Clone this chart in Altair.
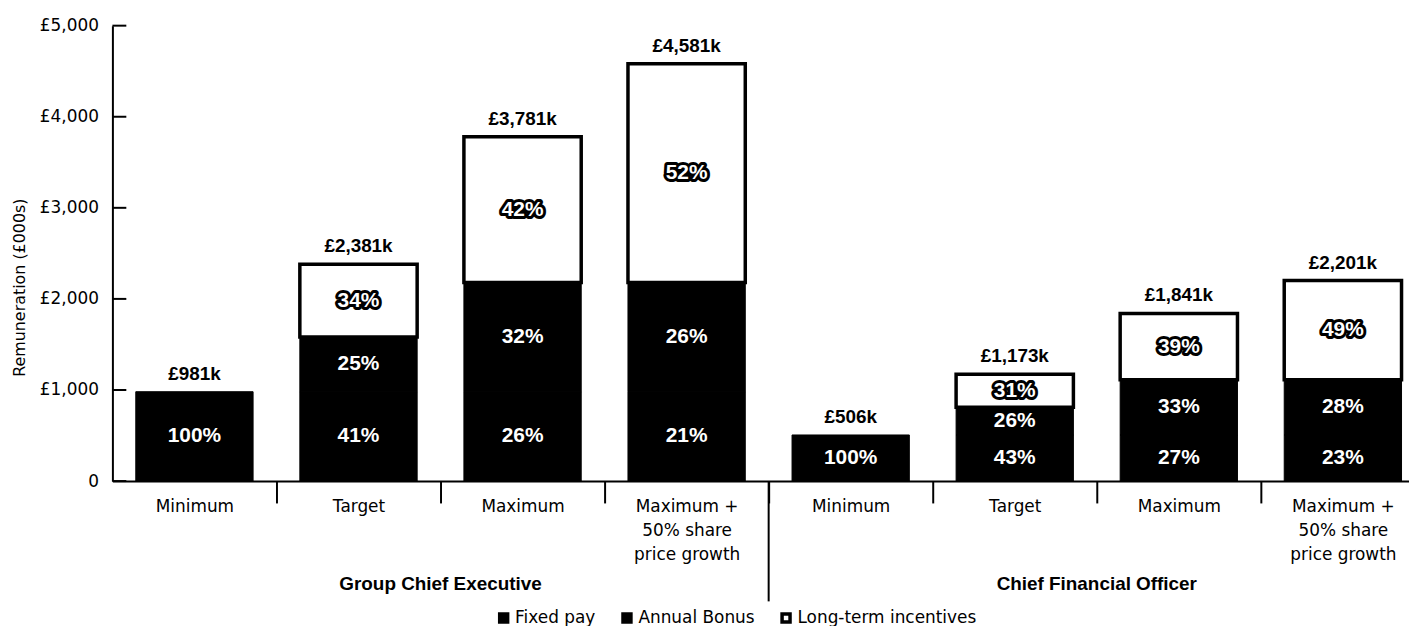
import altair as alt
import pandas as pd

# ---- data ----
roles = ["Group Chief Executive", "Chief Financial Officer"]
scenarios = ["Minimum", "Target", "Maximum", "Maximum +\n50% share\nprice growth"]
components = ["Fixed pay", "Annual Bonus", "Long-term incentives"]

fixed_pay = [981, 981, 981, 981, 506, 506, 506, 506]
annual_bonus = [0, 600, 1200, 1200, 0, 304, 607, 607]
long_term = [0, 800, 1600, 2400, 0, 363, 728, 1088]
totals = [981, 2381, 3781, 4581, 506, 1173, 1841, 2201]
fixed_pct = [100, 41, 26, 21, 100, 43, 27, 23]
bonus_pct = [None, 25, 32, 26, None, 26, 33, 28]
lti_pct = [None, 34, 42, 52, None, 31, 39, 49]
y_ticks = [0, 1000, 2000, 3000, 4000, 5000]

# ---- tables built from the lists ----
keys = [f"{r}|{s}" for r in roles for s in scenarios]

rows = []
for i, k in enumerate(keys):
    start = 0
    for order, (comp, vals, pcts) in enumerate(
        zip(components, [fixed_pay, annual_bonus, long_term], [fixed_pct, bonus_pct, lti_pct])
    ):
        v = vals[i]
        if v > 0:
            rows.append({
                "key": k, "component": comp, "order": order, "value": v,
                "start": start, "end": start + v, "mid": start + v / 2,
                "pct": f"{pcts[i]}%",
            })
            start += v
seg = pd.DataFrame(rows)
tot_df = pd.DataFrame({"key": keys, "total": totals, "label": [f"£{t:,}k" for t in totals]})
role_df = pd.DataFrame({"key": [keys[1], keys[5]], "role": roles})
div_df = pd.DataFrame({"key": [keys[3]]})
tick_df = pd.DataFrame({"v": y_ticks})

STEP = 165
W = 1304            # visible plot width (the last band runs past the page edge, as in the source)
H = 458
BOLD = "Liberation Sans"
REG = "DejaVu Sans"

xscale = alt.Scale(domain=keys, paddingInner=0, paddingOuter=0, range=[0, STEP * len(keys)])
yscale = alt.Scale(domain=[0, 5000], nice=False, zero=True)

x_axis = alt.Axis(
    title=None,
    labelExpr="split(split(datum.label, '|')[1], '\\n')",
    labelFont=REG, labelFontSize=17, labelColor="black", labelAngle=0,
    labelBaseline="top", labelLineHeight=24, labelPadding=-4, labelLimit=0,
    tickOffset=STEP / 2, labelOffset=-STEP / 2,
    tickSize=22, tickColor="black", tickWidth=2,
    domainColor="black", domainWidth=2, grid=False,
)
y_axis = alt.Axis(
    values=y_ticks,
    labelExpr="datum.value == 0 ? '0' : '£' + format(datum.value, ',')",
    labelFont=REG, labelFontSize=17, labelColor="black", labelPadding=14,
    ticks=False, domainColor="black", domainWidth=2, grid=False,
    title="Remuneration (£000s)", titleFont=REG, titleFontSize=16,
    titleFontWeight="normal", titleColor="black",
    titleX=-85, titleY=263, titleAlign="center", titleBaseline="bottom", titleAngle=270,
)


def X(**kw):
    return alt.X("key:N", sort=keys, scale=xscale, axis=x_axis, **kw)


def Y(field):
    return alt.Y(field, scale=yscale, axis=y_axis)


bars = alt.Chart(seg).mark_bar(width=alt.RelativeBandSize(0.715), stroke="black").encode(
    x=X(),
    y=Y("start:Q"),
    y2="end:Q",
    color=alt.Color(
        "component:N",
        scale=alt.Scale(domain=components, range=["#000000", "#000000", "#ffffff"]),
        legend=alt.Legend(
            title=None, orient="none", legendX=385, legendY=587, direction="horizontal",
            symbolType="square", symbolSize=64, symbolStrokeColor="black",
            symbolStrokeWidth=3.5, labelFont=REG, labelFontSize=17, labelColor="black",
            columnPadding=20, labelOffset=3, labelLimit=0,
        ),
    ),
    strokeWidth=alt.condition("datum.component == 'Long-term incentives'", alt.value(3.5), alt.value(1)),
    order=alt.Order("order:Q"),
)

y_tick_rules = alt.Chart(tick_df).mark_rule(color="black", strokeWidth=2).encode(
    y=Y("v:Q"),
    x=alt.value(0), x2=alt.value(14),
)

total_text = alt.Chart(tot_df).mark_text(
    font=BOLD, fontWeight="bold", fontSize=19, baseline="alphabetic", dy=-12, color="black"
).encode(
    x=X(),
    y=Y("total:Q"),
    text="label:N",
)

dark = seg[seg["component"] != "Long-term incentives"]
light = seg[seg["component"] == "Long-term incentives"]

dark_text = alt.Chart(dark).mark_text(
    font=BOLD, fontWeight="bold", fontSize=21, baseline="middle", color="white"
).encode(
    x=X(),
    y=Y("mid:Q"),
    text="pct:N",
)

light_outline = alt.Chart(light).mark_text(
    font=BOLD, fontWeight="bold", fontSize=21, baseline="middle",
    fill="white", stroke="black", strokeWidth=6, strokeJoin="round",
).encode(
    x=X(),
    y=Y("mid:Q"),
    text="pct:N",
)
light_text = alt.Chart(light).mark_text(
    font=BOLD, fontWeight="bold", fontSize=21, baseline="middle", color="white"
).encode(
    x=X(),
    y=Y("mid:Q"),
    text="pct:N",
)

role_text = alt.Chart(role_df).mark_text(
    font=BOLD, fontWeight="bold", fontSize=19, baseline="middle", color="black"
).encode(
    x=X(bandPosition=1),
    y=alt.value(562),
    text="role:N",
)

divider = alt.Chart(div_df).mark_rule(color="black", strokeWidth=2).encode(
    x=X(bandPosition=1),
    y=alt.value(H), y2=alt.value(579),
)

chart = alt.layer(
    bars, y_tick_rules, total_text, dark_text, light_outline, light_text, role_text, divider
).properties(
    width=W, height=H,
    autosize=alt.AutoSizeParams(type="none"),
    padding={"left": 105, "top": 16, "right": 0, "bottom": 144},
).configure_view(stroke="transparent")

chart.save("out.html", embed_options={"renderer": "svg", "actions": False})
